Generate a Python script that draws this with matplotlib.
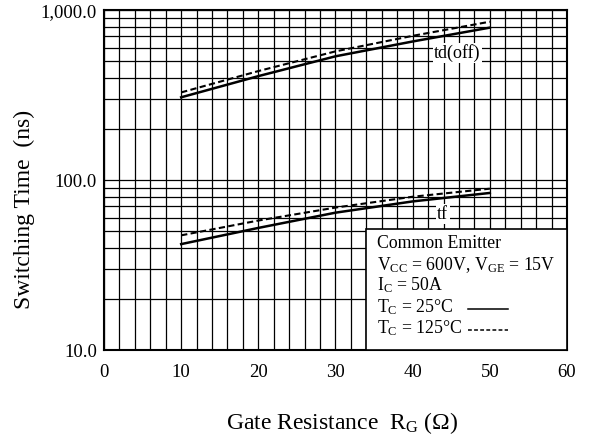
import matplotlib
matplotlib.use('Agg')
import matplotlib.pyplot as plt
from matplotlib.patches import Rectangle
from matplotlib.ticker import FixedLocator, NullFormatter

plt.rcParams['font.family'] = ['Liberation Serif', 'DejaVu Serif']
plt.rcParams['mathtext.fontset'] = 'custom'
plt.rcParams['mathtext.rm'] = 'Liberation Serif'
plt.rcParams['mathtext.it'] = 'Liberation Serif:italic'

# gate resistance (ohm)
rg = [10, 20, 30, 40, 50]
# switching times (ns)
tdoff_25 = [307, 409, 535, 654, 789]
tdoff_125 = [328, 438, 572, 706, 855]
tf_25 = [42, 52.3, 64.3, 74.9, 84]
tf_125 = [47.3, 57.8, 68.9, 79.8, 89]

xticks = [0, 10, 20, 30, 40, 50, 60]
yticks = [10, 100, 1000]
ytick_labels = ['10.0', '100.0', '1,000.0']

legend_lines = ['Common Emitter',
                r'V$_\mathrm{CC}$ = 600V, V$_\mathrm{GE}$ = 15V',
                r'I$_\mathrm{C}$ = 50A',
                r'T$_\mathrm{C}$ = 25°C',
                r'T$_\mathrm{C}$ = 125°C']

dash = (0, (3, 1.6))

fig = plt.figure(figsize=(5.89, 4.41), dpi=100)
ax = fig.add_axes([0.1766, 0.2063, 0.786, 0.7707])

ax.set_yscale('log')
ax.set_xlim(0, 60)
ax.set_ylim(10, 1000)

# grid: every 2 ohm, every log minor step
ax.xaxis.set_minor_locator(FixedLocator(range(0, 61, 2)))
ax.yaxis.set_minor_locator(FixedLocator([m * d for d in (10, 100) for m in range(2, 10)]))
ax.yaxis.set_minor_formatter(NullFormatter())
ax.grid(True, which='both', color='black', linewidth=0.9)
ax.set_axisbelow(True)

ax.plot(rg, tdoff_25, color='black', linewidth=1.8, linestyle='-')
ax.plot(rg, tdoff_125, color='black', linewidth=1.5, linestyle=dash)
ax.plot(rg, tf_25, color='black', linewidth=1.8, linestyle='-')
ax.plot(rg, tf_125, color='black', linewidth=1.5, linestyle=dash)

ax.text(45.8, 560, 'td(off)', fontsize=13, ha='center', va='center',
        bbox=dict(facecolor='white', edgecolor='none', pad=1))
ax.text(43.9, 63, 'tf', fontsize=13, ha='center', va='center',
        bbox=dict(facecolor='white', edgecolor='none', pad=1))

# condition box
ax.add_patch(Rectangle((0.566, 0), 0.434, 0.356, transform=ax.transAxes,
                       facecolor='white', edgecolor='black', linewidth=1.2, zorder=4))
for txt, yy in zip(legend_lines, [0.300, 0.235, 0.176, 0.112, 0.050]):
    ax.text(0.589, yy, txt, transform=ax.transAxes, fontsize=12.8,
            ha='left', va='baseline', zorder=5)
ax.plot([0.786, 0.873], [0.121, 0.121], transform=ax.transAxes, color='black',
        linewidth=1.1, zorder=5)
ax.plot([0.786, 0.873], [0.059, 0.059], transform=ax.transAxes, color='black',
        linewidth=1.1, linestyle=(0, (2.5, 1.5)), zorder=5)

ax.set_xticks(xticks)
ax.set_yticks(yticks)
ax.set_yticklabels(ytick_labels)
ax.tick_params(which='both', length=0, labelsize=13.5)
ax.tick_params(axis='y', pad=5)
ax.tick_params(axis='x', pad=10)
for s in ax.spines.values():
    s.set_linewidth(1.5)
    s.set_color('black')

ax.set_xlabel(r'Gate Resistance  R$_\mathrm{G}$ ($\Omega$)', fontsize=17)
ax.xaxis.set_label_coords(0.515, -0.176)
ax.set_ylabel('Switching Time  (ns)', fontsize=17, va='center')
ax.yaxis.set_label_coords(-0.173, 0.415)

fig.savefig('out.png', dpi=100)
